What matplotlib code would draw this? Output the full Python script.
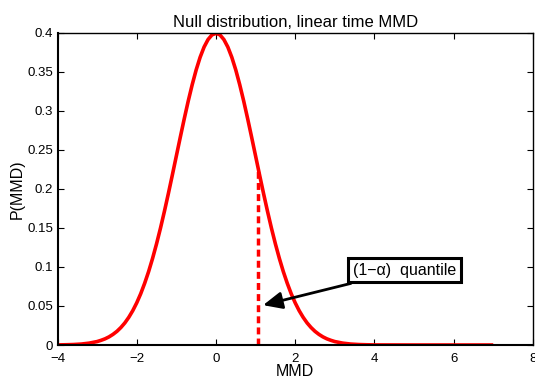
import matplotlib
matplotlib.use("Agg")
import matplotlib.pyplot as plt

plt.rcParams['font.family'] = ['Liberation Sans', 'DejaVu Sans']

# curve values
mmd_x = [-4.0, -3.8, -3.6, -3.4, -3.2, -3.0, -2.9, -2.8, -2.7, -2.6, -2.5, -2.4, -2.3,
         -2.2, -2.1, -2.0, -1.9, -1.8, -1.7, -1.6, -1.5, -1.4, -1.3, -1.2, -1.1, -1.0,
         -0.9, -0.8, -0.7, -0.6, -0.5, -0.4, -0.3, -0.2, -0.1, 0.0, 0.1, 0.2, 0.3, 0.4,
         0.5, 0.6, 0.7, 0.8, 0.9, 1.0, 1.1, 1.2, 1.3, 1.4, 1.5, 1.6, 1.7, 1.8, 1.9, 2.0,
         2.1, 2.2, 2.3, 2.4, 2.5, 2.6, 2.7, 2.8, 2.9, 3.0, 3.2, 3.4, 3.6, 3.8, 4.0, 5.0,
         6.0, 7.0]
p_mmd = [0.0001, 0.0003, 0.0006, 0.0012, 0.0024, 0.0044, 0.0060, 0.0079, 0.0104,
         0.0136, 0.0175, 0.0224, 0.0283, 0.0355, 0.0440, 0.0540, 0.0656, 0.0790,
         0.0940, 0.1109, 0.1295, 0.1497, 0.1714, 0.1942, 0.2179, 0.2420, 0.2661,
         0.2897, 0.3123, 0.3332, 0.3521, 0.3683, 0.3814, 0.3910, 0.3970, 0.3989,
         0.3970, 0.3910, 0.3814, 0.3683, 0.3521, 0.3332, 0.3123, 0.2897, 0.2661,
         0.2420, 0.2179, 0.1942, 0.1714, 0.1497, 0.1295, 0.1109, 0.0940, 0.0790,
         0.0656, 0.0540, 0.0440, 0.0355, 0.0283, 0.0224, 0.0175, 0.0136, 0.0104,
         0.0079, 0.0060, 0.0044, 0.0024, 0.0012, 0.0006, 0.0003, 0.0001, 0.0, 0.0, 0.0]
quantile_x = 1.07
quantile_y = 0.225
arrow_target = (1.19, 0.051)
xticks = [-4, -2, 0, 2, 4, 6, 8]
yticks = [0, 0.05, 0.1, 0.15, 0.2, 0.25, 0.3, 0.35, 0.4]
ytick_labels = ['0', '0.05', '0.1', '0.15', '0.2', '0.25', '0.3', '0.35', '0.4']

fig = plt.figure(figsize=(5.35, 3.78), dpi=100)
ax = fig.add_axes([0.1075, 0.0873, 0.8885, 0.8267])
ax.plot(mmd_x, p_mmd, color='red', lw=2.6, solid_capstyle='butt', solid_joinstyle='round')
ax.plot([quantile_x, quantile_x], [0, quantile_y], color='red', lw=2.5,
        linestyle=(0, (2.0, 1.2)))
ax.set_xlim(-4, 8)
ax.set_ylim(0, 0.4)
ax.set_xticks(xticks)
ax.set_xticklabels([str(t).replace('-', '\u2212') for t in xticks])
ax.set_yticks(yticks)
ax.set_yticklabels(ytick_labels)
ax.tick_params(direction='in', top=True, right=True, labelsize=9.5, length=4, width=0.8)
ax.tick_params(axis='x', pad=6)
ax.tick_params(axis='y', pad=3)
for s in ax.spines.values():
    s.set_linewidth(1.0)
ax.spines['bottom'].set_linewidth(1.5)
ax.spines['left'].set_linewidth(1.5)
ax.set_xlabel('MMD', fontsize=11.5, labelpad=-1)
ax.set_ylabel('P(MMD)', fontsize=11.5, labelpad=2)
ax.set_title('Null distribution, linear time MMD', fontsize=12, pad=4)

ax.annotate('(1\u2212\u03b1)  quantile', xy=arrow_target, xytext=(4.77, 0.096),
            xycoords='data', textcoords='data', fontsize=11.5, ha='center', va='center',
            bbox=dict(boxstyle='square,pad=0.3', fc='white', ec='black', lw=2.2),
            arrowprops=dict(arrowstyle='-|>,head_length=1.0,head_width=0.45',
                            color='black', lw=2.0, shrinkA=0, shrinkB=0))
fig.savefig('out.png', dpi=100)
